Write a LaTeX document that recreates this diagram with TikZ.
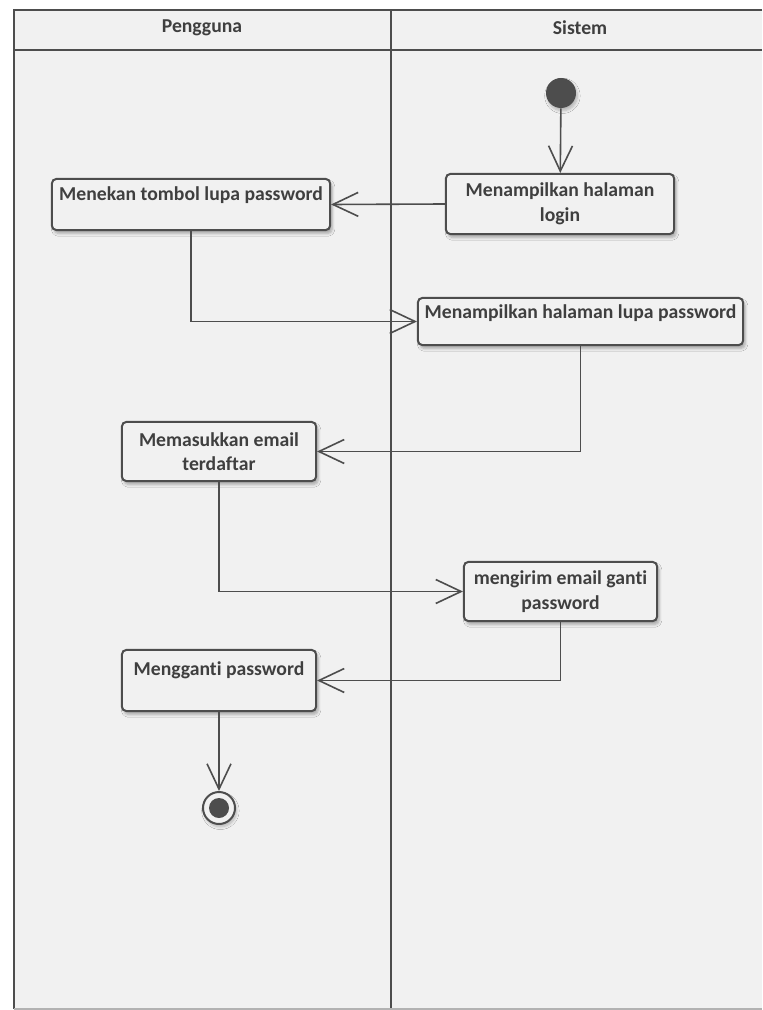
\documentclass[tikz,border=0pt]{standalone}
\usepackage{fontspec}
\setmainfont[Ligatures={NoCommon}]{Carlito}
\usetikzlibrary{arrows.meta,shadows.blur}
\definecolor{lanebg}{HTML}{F1F1F1}
\definecolor{umlline}{HTML}{4D4D4D}
\definecolor{umltext}{HTML}{3F3F3F}
\tikzset{
	judul/.style={text=umltext, font=\fontsize{14}{17.5}\selectfont\bfseries},
	aksi/.style={draw=umlline, line width=0.5mm, fill=lanebg, rounded corners=3pt, align=center, text=umltext, font=\fontsize{14}{17.5}\selectfont\bfseries, inner sep=0pt, blur shadow={shadow blur steps=6, shadow xshift=1.5pt, shadow yshift=-2.5pt, shadow opacity=30}},
	mulai/.style={circle, fill=umlline, minimum size=0.75cm, inner sep=0pt, blur shadow={shadow blur steps=6, shadow xshift=1pt, shadow yshift=-2pt, shadow opacity=25}},
	selesai/.style={circle, draw=umlline, line width=0.5mm, fill=lanebg, minimum size=0.8cm, inner sep=0pt, blur shadow={shadow blur steps=6, shadow xshift=1pt, shadow yshift=-2pt, shadow opacity=25}},
	alur/.style={draw=umlline, line width=0.4mm, -{Straight Barb[length=18pt,width=17pt]}},
}

\begin{document}
\begin{tikzpicture}[x=0.025cm, y=-0.025cm]
			%%%%% START %%%%%
			
			\useasboundingbox[fill=white] (0,0) rectangle (762,1010);
			\fill[lanebg] (14,10) rectangle (762,1009);
			
			\draw[line width=0.5mm, color=umlline] (762,10) -- (14,10) -- (14,1009);
			\draw[line width=0.5mm, color=umlline] (14,50) -- (762,50);
			\draw[line width=0.5mm, color=umlline] (391,10) -- (391,1009);
			\draw[line width=0.4mm, color=black!30] (14,1009) -- (762,1009);
			
			\node[judul] (pengguna) at (202,28) {Pengguna};
			\node[judul] (sistem) at (580,28) {Sistem};
			
			\node[mulai] (awal) at (561,93) {};
			\node[aksi, minimum width=5.7cm, minimum height=1.5cm] (login) at (560,204) {Menampilkan halaman\\login};
			\node[aksi, minimum width=6.95cm, minimum height=1.275cm] (tekan) at (191,204.5) {Menekan tombol lupa password\\[-2pt]~};
			\node[aksi, minimum width=8.125cm, minimum height=1.175cm] (lupa) at (580.5,321.5) {Menampilkan halaman lupa password\\[-4pt]~};
			\node[aksi, minimum width=4.85cm, minimum height=1.475cm] (email) at (219,451.5) {Memasukkan email\\terdaftar};
			\node[aksi, minimum width=4.825cm, minimum height=1.475cm] (kirim) at (560.5,591.5) {mengirim email ganti\\password};
			\node[aksi, minimum width=4.85cm, minimum height=1.525cm] (ganti) at (219,680.5) {Mengganti password\\~};
			\node[selesai] (akhir) at (219,808) {};
			\fill[umlline] (akhir) circle (0.25cm);
			
			\draw[alur] (awal) -- (login);
			\draw[alur] (login.west) -- (tekan.east);
			\draw[alur] (tekan.south) |- (lupa.west);
			\draw[alur] (lupa.south) |- (email.east);
			\draw[alur] (email.south) |- (kirim.west);
			\draw[alur] (kirim.south) |- (ganti.east);
			\draw[alur] (ganti) -- (akhir);
			
			%%%%% END %%%%%
\end{tikzpicture}
\end{document}
